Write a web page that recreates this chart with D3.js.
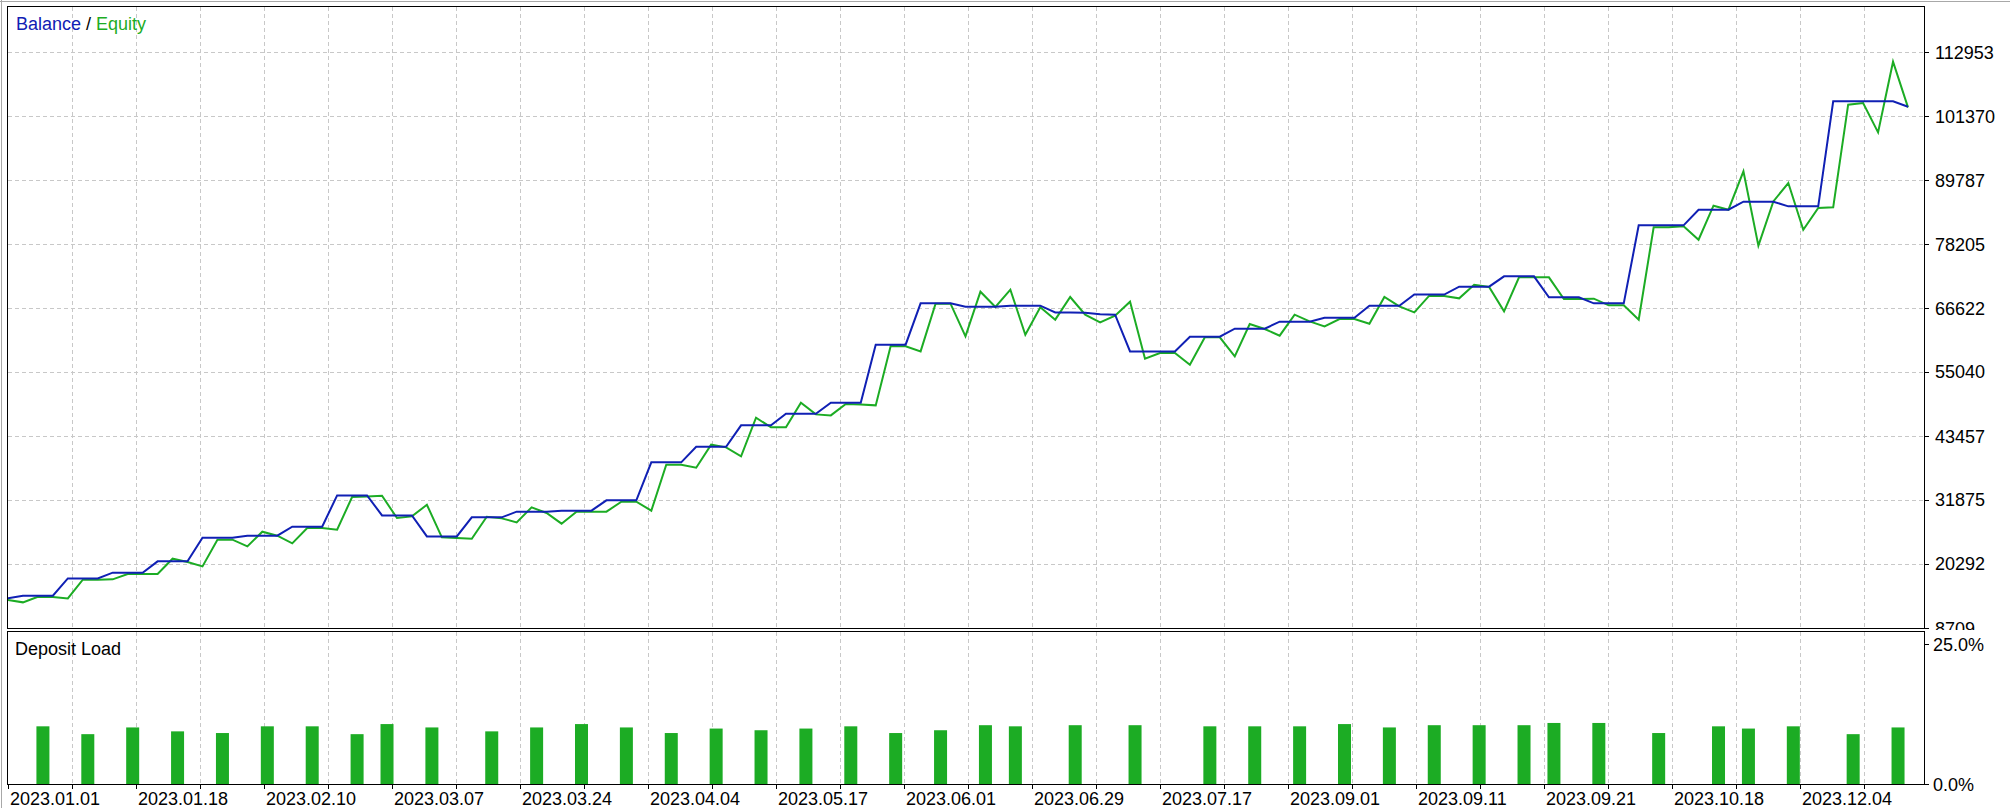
<!DOCTYPE html>
<html><head><meta charset="utf-8">
<script src="https://cdn.jsdelivr.net/npm/d3@7"></script>
<style>
html,body{margin:0;padding:0;background:#fff;}
svg{display:block;font-family:"Liberation Sans",Arial,sans-serif;}
</style></head><body>
<script>
// ---- data ----
const balance = [
 14070, 14560, 14560, 14560, 17690, 17690, 17690, 18720, 18720, 18720,
 20770, 20770, 20770, 25050, 25050, 25050, 25410, 25410, 25410, 27040,
 27040, 27040, 32710, 32710, 32710, 29090, 29090, 29090, 25290, 25290,
 25290, 28730, 28730, 28730, 29760, 29760, 29760, 29940, 29940, 29940,
 31810, 31810, 31810, 38690, 38690, 38690, 41520, 41520, 41520, 45380,
 45380, 45380, 47490, 47490, 47490, 49480, 49480, 49480, 59980, 59980,
 59980, 67460, 67460, 67460, 66860, 66860, 66860, 67040, 67040, 67040,
 65830, 65830, 65770, 65470, 65410, 58770, 58770, 58770, 58770, 61430,
 61430, 61430, 62880, 62880, 62880, 64140, 64140, 64140, 64870, 64870,
 64870, 67040, 67040, 67040, 69070, 69070, 69060, 70480, 70480, 70480,
 72350, 72350, 72350, 68550, 68550, 68550, 67460, 67460, 67460, 81580,
 81580, 81580, 81580, 84410, 84410, 84410, 85860, 85860, 85860, 85020,
 85020, 85020, 104020, 104020, 104020, 104020, 104020, 103050];

const equity = [
 13770, 13350, 14370, 14310, 14070, 17450, 17450, 17510, 18480, 18480,
 18480, 21250, 20650, 19860, 24690, 24690, 23480, 26140, 25410, 24030,
 26800, 26800, 26500, 32410, 32530, 32650, 28610, 28910, 31020, 25110,
 24990, 24870, 28850, 28550, 27830, 30540, 29520, 27590, 29760, 29760,
 29760, 31570, 31570, 29940, 38260, 38260, 37720, 41880, 41400, 39770,
 46770, 45020, 45020, 49480, 47370, 47190, 49240, 49180, 49000, 59740,
 59680, 58770, 67400, 67400, 61490, 69570, 66800, 69940, 61790, 66740,
 64510, 68610, 65410, 64020, 65230, 67760, 57450, 58470, 58470, 56360,
 61310, 61310, 57870, 63720, 62820, 61610, 65410, 64200, 63300, 64630,
 64630, 63780, 68610, 66920, 65830, 68850, 68800, 68370, 70840, 70420,
 66010, 72170, 72170, 72170, 68250, 68250, 68310, 67100, 67100, 64510,
 81220, 81220, 81400, 78980, 85140, 84410, 91350, 77900, 85920, 89240,
 80790, 84720, 84840, 103420, 103720, 98410, 111200, 102930];

const loadIndex = [2, 5, 8, 11, 14, 17, 20, 23, 25, 28, 32, 35, 38, 41, 44, 47, 50, 53, 56, 59,
 62, 65, 67, 71, 75, 80, 83, 86, 89, 92, 95, 98, 101, 103, 106, 110, 114, 116, 119, 123, 126];
const loadPercent = [10.3, 8.9, 10.1, 9.4, 9.1, 10.3, 10.3, 8.9, 10.7, 10.1, 9.4, 10.1, 10.7, 10.1, 9.1, 9.9, 9.6, 9.9, 10.3, 9.1,
 9.6, 10.5, 10.3, 10.5, 10.5, 10.3, 10.3, 10.3, 10.7, 10.1, 10.5, 10.5, 10.5, 10.9, 10.9, 9.1, 10.3, 9.9, 10.3, 8.9, 10.1];

const dateLabels = ["2023.01.01", "2023.01.18", "2023.02.10", "2023.03.07", "2023.03.24", "2023.04.04",
 "2023.05.17", "2023.06.01", "2023.06.29", "2023.07.17", "2023.09.01", "2023.09.11", "2023.09.21",
 "2023.10.18", "2023.12.04"];
const balanceTicks = [8709, 20292, 31875, 43457, 55040, 66622, 78205, 89787, 101370, 112953];
const loadTicks = [0, 25];
const loadTickLabels = ["0.0%", "25.0%"];

// ---- layout ----
const W = 2010, H = 808;
const L = 7.5, R = 1924.5, mainTop = 6.5, mainBottom = 628.5, loadTop = 631.5, loadBottom = 784.5;
const BLUE = "#1020b4", GREEN = "#1cac24", GRID = "#c8c8c8";

const svg = d3.select("body").append("svg").attr("width", W).attr("height", H);
svg.append("rect").attr("width", W).attr("height", H).attr("fill", "#fff");
svg.append("path").attr("d", "M0,1.5H2010M1.5,0V808").attr("stroke", "#a8a8a8").attr("fill", "none");

const x = d3.scaleLinear().domain([0, balance.length - 1]).range([8, 1908]);
const y = d3.scaleLinear().domain([balanceTicks[0], balanceTicks[balanceTicks.length - 1]]).range([628, 52]);
const yLoad = d3.scaleLinear().domain([0, 25]).range([784, 644]);
const xAxis = d3.scalePoint().domain(dateLabels).range([8, 8 + 128 * (dateLabels.length - 1)]);
const half = xAxis.step() / 2;

const defs = svg.append("defs");
defs.append("clipPath").attr("id", "mainClip").append("rect")
  .attr("x", 8).attr("y", 7).attr("width", R - 8).attr("height", mainBottom - 7);
defs.append("clipPath").attr("id", "labelClip").append("rect")
  .attr("x", 1926).attr("y", 0).attr("width", 90).attr("height", 630);

// vertical grid positions
const gx = [];
dateLabels.forEach(d => {
  const p = xAxis(d);
  if (p > 8) gx.push(p);
  if (p + half < R) gx.push(p + half);
});

const grid = svg.append("g").attr("stroke", GRID).attr("stroke-dasharray", "4,3").attr("shape-rendering", "crispEdges");
gx.forEach(p => {
  grid.append("line").attr("x1", p + 0.5).attr("x2", p + 0.5).attr("y1", mainTop).attr("y2", mainBottom);
  grid.append("line").attr("x1", p + 0.5).attr("x2", p + 0.5).attr("y1", loadTop).attr("y2", loadBottom);
});
balanceTicks.slice(1).forEach(t => {
  grid.append("line").attr("x1", L).attr("x2", R).attr("y1", Math.round(y(t)) + 0.5).attr("y2", Math.round(y(t)) + 0.5);
});

// lines
const line = d3.line().x((d, i) => x(i)).y(d => y(d));
const lines = svg.append("g").attr("clip-path", "url(#mainClip)");
lines.append("path").datum(equity).attr("d", line).attr("fill", "none").attr("stroke", GREEN).attr("stroke-width", 2);
lines.append("path").datum(balance).attr("d", line).attr("fill", "none").attr("stroke", BLUE).attr("stroke-width", 2);

// deposit load bars
svg.append("g").selectAll("rect").data(loadIndex).join("rect")
  .attr("x", d => x(d) - 1.5).attr("width", 13)
  .attr("y", (d, i) => yLoad(loadPercent[i]))
  .attr("height", (d, i) => yLoad(0) - yLoad(loadPercent[i]))
  .attr("fill", GREEN);

// frames
const frames = svg.append("g").attr("fill", "none").attr("stroke", "#000").attr("shape-rendering", "crispEdges");
frames.append("rect").attr("x", L).attr("y", mainTop).attr("width", R - L).attr("height", mainBottom - mainTop);
frames.append("rect").attr("x", L).attr("y", loadTop).attr("width", R - L).attr("height", loadBottom - loadTop);

// ticks
const ticks = svg.append("g").attr("stroke", "#000").attr("shape-rendering", "crispEdges");
balanceTicks.forEach(t => {
  ticks.append("line").attr("x1", R).attr("x2", R + 4).attr("y1", Math.round(y(t)) + 0.5).attr("y2", Math.round(y(t)) + 0.5);
});
loadTicks.forEach(t => {
  ticks.append("line").attr("x1", R).attr("x2", R + 4).attr("y1", Math.round(yLoad(t)) + 0.5).attr("y2", Math.round(yLoad(t)) + 0.5);
});
[8].concat(gx).forEach(p => {
  ticks.append("line").attr("x1", p + 0.5).attr("x2", p + 0.5).attr("y1", loadBottom).attr("y2", loadBottom + 4);
});

// texts
const txt = svg.append("g").attr("font-size", 18).attr("fill", "#000");
txt.append("g").attr("clip-path", "url(#labelClip)").selectAll("text").data(balanceTicks).join("text")
  .attr("x", 1935).attr("y", d => y(d) + 6.5).text(d => d);
txt.selectAll("text.lt").data(loadTicks).join("text").attr("class", "lt")
  .attr("x", 1933).attr("y", d => yLoad(d) + 7).text((d, i) => loadTickLabels[i]);
txt.selectAll("text.xl").data(dateLabels).join("text").attr("class", "xl")
  .attr("x", d => xAxis(d) + 2).attr("y", 805).text(d => d);

const title = txt.append("text").attr("x", 16).attr("y", 30);
title.append("tspan").attr("fill", BLUE).text("Balance");
title.append("tspan").attr("fill", "#000").text(" / ");
title.append("tspan").attr("fill", GREEN).text("Equity");
txt.append("text").attr("x", 15).attr("y", 655).text("Deposit Load");
</script>
</body></html>
